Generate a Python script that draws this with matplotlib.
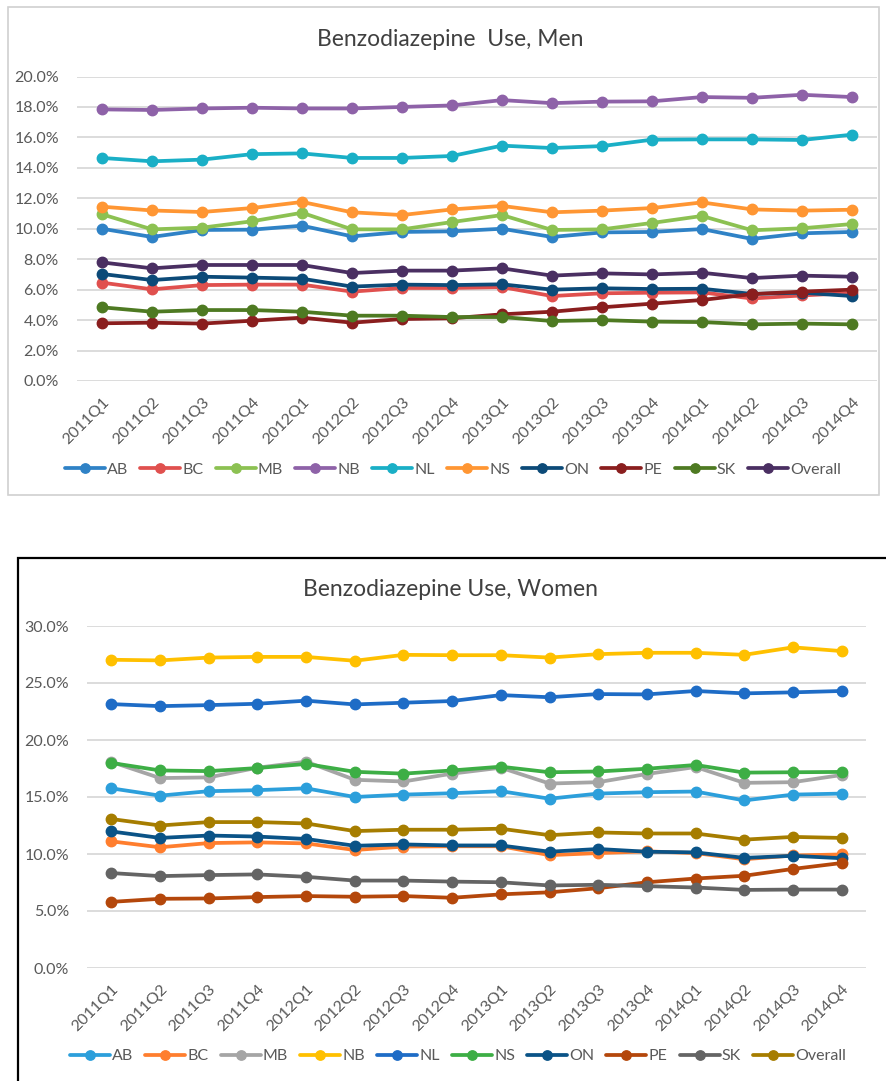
import matplotlib
matplotlib.use("Agg")
import matplotlib.pyplot as plt
from matplotlib.ticker import PercentFormatter, MultipleLocator
from matplotlib.patches import Rectangle

plt.rcParams['font.family'] = ['Lato', 'DejaVu Sans']

quarters = ["2011Q1", "2011Q2", "2011Q3", "2011Q4", "2012Q1", "2012Q2", "2012Q3", "2012Q4",
            "2013Q1", "2013Q2", "2013Q3", "2013Q4", "2014Q1", "2014Q2", "2014Q3", "2014Q4"]
series_names = ["AB", "BC", "MB", "NB", "NL", "NS", "ON", "PE", "SK", "Overall"]

# Men (%)
men_AB = [10.0, 9.46, 9.92, 9.94, 10.2, 9.5, 9.79, 9.83, 10.0, 9.46, 9.76, 9.79, 9.98, 9.33, 9.7, 9.79]
men_BC = [6.46, 6.02, 6.3, 6.33, 6.33, 5.87, 6.11, 6.11, 6.17, 5.58, 5.76, 5.8, 5.82, 5.42, 5.62, 5.78]
men_MB = [10.95, 9.96, 10.07, 10.49, 11.05, 9.96, 9.96, 10.44, 10.9, 9.92, 9.96, 10.38, 10.84, 9.9, 10.03, 10.31]
men_NB = [17.84, 17.8, 17.9, 17.95, 17.9, 17.9, 18.0, 18.1, 18.45, 18.25, 18.35, 18.37, 18.65, 18.6, 18.8, 18.65]
men_NL = [14.65, 14.43, 14.54, 14.9, 14.95, 14.65, 14.65, 14.78, 15.46, 15.3, 15.43, 15.85, 15.87, 15.87, 15.83, 16.18]
men_NS = [11.45, 11.2, 11.1, 11.36, 11.76, 11.08, 10.9, 11.27, 11.5, 11.08, 11.19, 11.36, 11.73, 11.27, 11.19, 11.25]
men_ON = [7.03, 6.63, 6.85, 6.79, 6.72, 6.2, 6.33, 6.3, 6.35, 6.0, 6.09, 6.04, 6.06, 5.72, 5.8, 5.58]
men_PE = [3.79, 3.83, 3.77, 3.96, 4.16, 3.83, 4.07, 4.12, 4.38, 4.55, 4.84, 5.08, 5.32, 5.71, 5.87, 6.0]
men_SK = [4.84, 4.55, 4.66, 4.66, 4.55, 4.29, 4.29, 4.2, 4.2, 3.94, 4.0, 3.9, 3.87, 3.72, 3.77, 3.72]
men_Overall = [7.79, 7.4, 7.62, 7.62, 7.62, 7.09, 7.25, 7.25, 7.4, 6.92, 7.07, 7.0, 7.11, 6.76, 6.92, 6.85]

# Women (%)
women_AB = [15.76, 15.12, 15.51, 15.6, 15.76, 15.0, 15.21, 15.33, 15.51, 14.85, 15.3, 15.42, 15.48, 14.7, 15.21, 15.3]
women_BC = [11.11, 10.59, 10.96, 11.02, 10.93, 10.35, 10.65, 10.68, 10.68, 9.9, 10.08, 10.23, 10.08, 9.54, 9.87, 9.96]
women_MB = [18.08, 16.66, 16.72, 17.57, 18.1, 16.51, 16.36, 17.05, 17.57, 16.18, 16.3, 17.02, 17.63, 16.24, 16.3, 16.93]
women_NB = [27.04, 26.98, 27.23, 27.29, 27.29, 26.95, 27.47, 27.44, 27.44, 27.23, 27.53, 27.65, 27.65, 27.47, 28.13, 27.8]
women_NL = [23.15, 22.97, 23.06, 23.18, 23.45, 23.12, 23.27, 23.42, 23.94, 23.75, 24.03, 24.0, 24.3, 24.09, 24.18, 24.3]
women_NS = [17.99, 17.33, 17.27, 17.54, 17.9, 17.21, 17.05, 17.33, 17.66, 17.17, 17.24, 17.48, 17.81, 17.14, 17.17, 17.2]
women_ON = [11.98, 11.41, 11.62, 11.53, 11.32, 10.72, 10.84, 10.75, 10.75, 10.2, 10.44, 10.2, 10.14, 9.66, 9.84, 9.63]
women_PE = [5.8, 6.07, 6.1, 6.22, 6.31, 6.25, 6.31, 6.16, 6.46, 6.64, 7.0, 7.52, 7.85, 8.09, 8.69, 9.21]
women_SK = [8.33, 8.06, 8.15, 8.21, 8.0, 7.67, 7.67, 7.58, 7.52, 7.24, 7.3, 7.18, 7.06, 6.85, 6.88, 6.88]
women_Overall = [13.07, 12.5, 12.8, 12.8, 12.68, 12.01, 12.13, 12.13, 12.22, 11.65, 11.89, 11.8, 11.8, 11.26, 11.5, 11.41]

men_data = [men_AB, men_BC, men_MB, men_NB, men_NL, men_NS, men_ON, men_PE, men_SK, men_Overall]
women_data = [women_AB, women_BC, women_MB, women_NB, women_NL, women_NS, women_ON, women_PE, women_SK, women_Overall]

men_colors = ["#2F82C6", "#E0504E", "#8CC152", "#8E62A8", "#1AAFC6", "#FF9633",
              "#0C4A78", "#8A1E1E", "#4E7A22", "#4A2F62"]
women_colors = ["#2C9FDB", "#FF7E2E", "#A5A5A5", "#FFC000", "#1E6CC6", "#3DAE45",
                "#0A5387", "#B4470B", "#646464", "#A67D00"]

W, H = 886, 1081
fig = plt.figure(figsize=(W / 100, H / 100), dpi=100)
fig.patch.set_facecolor("white")

def px_axes(x0, y0, x1, y1):
    return fig.add_axes([x0 / W, 1 - y1 / H, (x1 - x0) / W, (y1 - y0) / H])

# frames
fig.patches.append(Rectangle((8 / W, 1 - 495 / H), (879 - 8) / W, (495 - 7) / H,
                             transform=fig.transFigure, fill=False, ec="#D0D0D0", lw=1.2))
fig.patches.append(Rectangle((18 / W, 1 - 1100 / H), (900 - 18) / W, (1100 - 558) / H,
                             transform=fig.transFigure, fill=False, ec="#000000", lw=1.6))

def draw(ax, data, colors, ymax, ystep, title, title_y, legend_y, legend_x):
    x = list(range(len(quarters)))
    for name, vals, c in zip(series_names, data, colors):
        ax.plot(x, vals, color=c, lw=2.7, marker="o", ms=7.5, label=name, solid_capstyle="round")
    ax.set_xlim(-0.5, len(quarters) - 0.5)
    ax.set_ylim(0, ymax)
    ax.yaxis.set_major_locator(MultipleLocator(ystep))
    ax.yaxis.set_major_formatter(PercentFormatter(100, decimals=1))
    ax.grid(axis="y", color="#D9D9D9", lw=1.3)
    ax.set_axisbelow(True)
    for s in ax.spines.values():
        s.set_visible(False)
    ax.tick_params(axis="both", length=0, labelsize=11.5, labelcolor="#595959")
    ax.tick_params(axis="y", pad=13)
    ax.set_xticks(x)
    ax.set_xticklabels(quarters, rotation=45, ha="right", rotation_mode="anchor")
    ax.tick_params(axis="x", pad=10)
    fig.text(0.508, 1 - title_y / H, title, ha="center", va="center", fontsize=16.5, color="#404040")
    handles, labels = ax.get_legend_handles_labels()
    fig.legend(handles, labels, loc="center", bbox_to_anchor=(legend_x / W, 1 - legend_y / H), ncol=10,
               frameon=False, fontsize=11.5, handlelength=2.5, handletextpad=0.15,
               columnspacing=0.75, labelcolor="#595959", markerscale=0.9)

ax1 = px_axes(77, 76.5, 877, 381)
draw(ax1, men_data, men_colors, 20, 2, "Benzodiazepine  Use, Men", 40, 470, 453)

ax2 = px_axes(87, 626, 866, 968)
draw(ax2, women_data, women_colors, 30, 5, "Benzodiazepine Use, Women", 590, 1056, 458)

fig.savefig("out.png", dpi=100, facecolor="white")
